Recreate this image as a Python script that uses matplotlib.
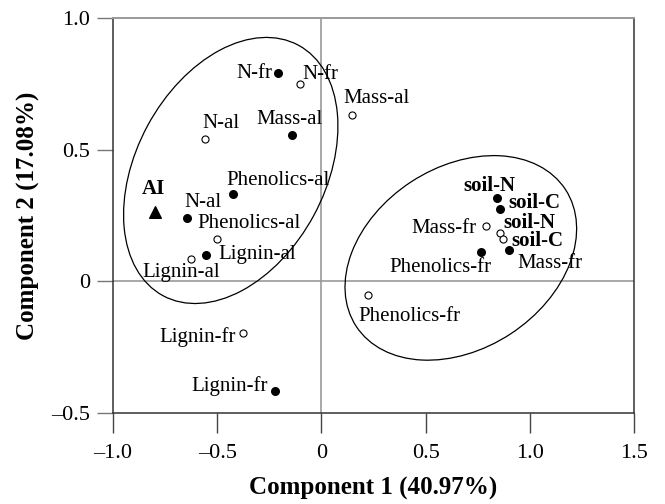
import matplotlib.pyplot as plt
from matplotlib.patches import Ellipse
from matplotlib.transforms import Affine2D, ScaledTranslation

plt.rcParams["font.family"] = ["Liberation Serif", "DejaVu Serif"]

# Loadings on the first two components (filled / open variables)
filled_names = ["N-fr", "Mass-al", "Phenolics-al", "N-al", "Lignin-al",
                "Lignin-fr", "soil-N", "soil-C", "Phenolics-fr", "Mass-fr"]
filled_x = [-0.21, -0.14, -0.425, -0.645, -0.555, -0.225, 0.845, 0.855, 0.765, 0.90]
filled_y = [0.79, 0.555, 0.33, 0.24, 0.10, -0.415, 0.315, 0.275, 0.11, 0.12]

open_names = ["N-fr", "Mass-al", "N-al", "Phenolics-al", "Lignin-al",
              "Lignin-fr", "Phenolics-fr", "Mass-fr", "soil-N", "soil-C"]
open_x = [-0.105, 0.145, -0.56, -0.50, -0.625, -0.375, 0.225, 0.79, 0.855, 0.87]
open_y = [0.75, 0.63, 0.54, 0.16, 0.085, -0.195, -0.05, 0.21, 0.185, 0.16]

ai_x, ai_y = [-0.80], [0.265]

x_ticks = [-1.0, -0.5, 0, 0.5, 1.0, 1.5]
x_labels = ["\u20131.0", "\u20130.5", "0", "0.5", "1.0", "1.5"]
y_ticks = [-0.5, 0, 0.5, 1.0]
y_labels = ["\u20130.5", "0", "0.5", "1.0"]

# label placement: (dx, dy) in points, horizontal alignment
filled_offsets = [(-4, 0, "right"), (-2, 11, "center"), (-5, 10, "left"),
                  (-2, 11, "left"), (9, 0, "left"), (-5, 3, "right"),
                  (-6, 9, "center"), (6, 4, "left"), (8, -11, "right"),
                  (6, -10, "left")]
open_offsets = [(2, 7, "left"), (-6, 12, "left"), (-2, 11.5, "left"),
                (-14, 11.5, "left"), (-7, -9.5, "center"), (-5, -3, "right"),
                (-7, -16, "left"), (-7, -2, "right"), (3, 7, "left"),
                (6, -1, "left")]
bold_names = {"soil-N", "soil-C"}

fig = plt.figure(figsize=(6.65, 5.04), dpi=100)
ax = fig.add_axes([113 / 665, 1 - 413 / 504, 521 / 665, 395 / 504])
ax.set_xlim(-1.0, 1.5)
ax.set_ylim(-0.5, 1.0)

ax.axhline(0, color="#999999", lw=1.2, zorder=1)
ax.axvline(0, color="#999999", lw=1.2, zorder=1)

ax.scatter(filled_x, filled_y, s=30, color="black", zorder=3)
ax.scatter(open_x, open_y, s=26, facecolor="white", edgecolor="black",
           linewidth=0.8, zorder=3)
ax.scatter(ai_x, ai_y, s=70, marker="^", color="black", zorder=3)

fs = 15
for name, x, y, (dx, dy, ha) in zip(filled_names, filled_x, filled_y, filled_offsets):
    ax.annotate(name, (x, y), xytext=(dx, dy), textcoords="offset points",
                ha=ha, va="center", fontsize=fs,
                fontweight="bold" if name in bold_names else "normal")
for name, x, y, (dx, dy, ha) in zip(open_names, open_x, open_y, open_offsets):
    ax.annotate(name, (x, y), xytext=(dx, dy), textcoords="offset points",
                ha=ha, va="center", fontsize=fs,
                fontweight="bold" if name in bold_names else "normal")
ax.annotate("AI", (ai_x[0], ai_y[0]), xytext=(-1, 16.5), textcoords="offset points",
            ha="center", va="center", fontsize=fs, fontweight="bold")

# grouping ellipses: centre in data units, semi-axes in points, tilt in degrees
groups = [(-0.435, 0.421, 102.5, 68.0, 61.6), (0.669, 0.089, 90.0, 65.4, 33.2)]
for cx, cy, a, b, ang in groups:
    tr = (Affine2D().scale(1 / 72) + fig.dpi_scale_trans
          + ScaledTranslation(cx, cy, ax.transData))
    ax.add_patch(Ellipse((0, 0), 2 * a, 2 * b, angle=ang, transform=tr,
                         fill=False, edgecolor="black", lw=0.9, zorder=2))

ax.set_xticks(x_ticks)
ax.set_xticklabels(x_labels)
ax.set_yticks(y_ticks)
ax.set_yticklabels(y_labels)
ax.tick_params(axis="x", direction="out", length=14.5, width=1, color="#444444",
               pad=8, labelsize=16)
ax.tick_params(axis="y", direction="out", length=11.5, width=1, color="#777777",
               pad=5, labelsize=16)

for side in ["left", "bottom", "right"]:
    ax.spines[side].set_color("#333333")
    ax.spines[side].set_linewidth(1.1)
ax.spines["top"].set_color("#999999")
ax.spines["top"].set_linewidth(1.4)

ax.set_xlabel("Component 1 (40.97%)", fontsize=18, fontweight="bold", labelpad=10)
ax.set_ylabel("Component 2 (17.08%)", fontsize=18, fontweight="bold", labelpad=8)

fig.savefig("out.png", dpi=100)
